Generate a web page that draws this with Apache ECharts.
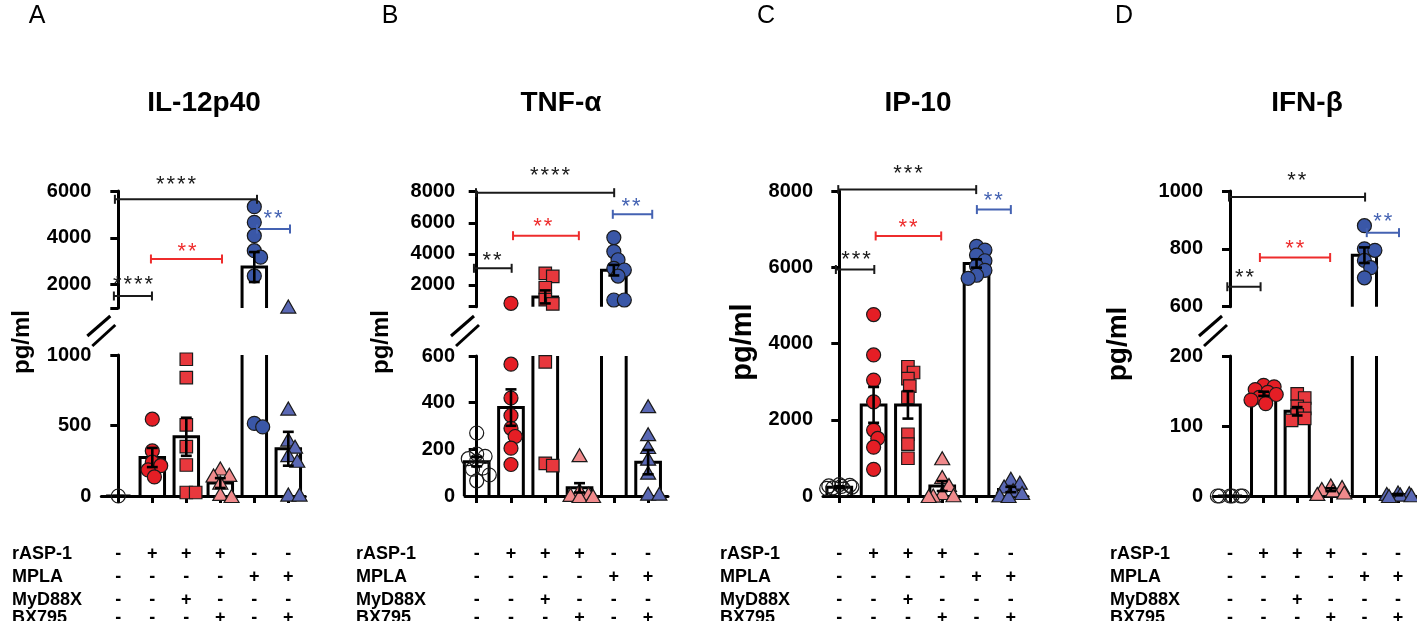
<!DOCTYPE html>
<html>
<head>
<meta charset="utf-8">
<script src="https://cdn.jsdelivr.net/npm/echarts@6/dist/echarts.min.js"></script>
<style>
html,body{margin:0;padding:0;background:#fff;}
#chart{width:1417px;height:621px;}
</style>
</head>
<body>
<div id="chart"></div>
<script>
// ---------------- DATA ----------------
const CATEGORIES = ['Medium', 'rASP-1', 'rASP-1 + MyD88X', 'rASP-1 + BX795', 'MPLA', 'MPLA + BX795'];
const ROW_LABELS = ['rASP-1', 'MPLA', 'MyD88X', 'BX795'];
const ROW_SIGNS = [
  ['-', '+', '+', '+', '-', '-'],
  ['-', '-', '-', '-', '+', '+'],
  ['-', '-', '+', '-', '-', '-'],
  ['-', '-', '-', '+', '-', '+']
];
const TITLES = ['IL-12p40', 'TNF-α', 'IP-10', 'IFN-β'];
const LETTERS = ['A', 'B', 'C', 'D'];
const Y_NAME = 'pg/ml';

// IL-12p40
const IL12_MEAN = [0, 273, 420, 92, 2750, 335];
const IL12_SEM = [0, 68, 135, 35, 640, 120];
const IL12_POINTS = [
  [0],
  [545, 320, 240, 215, 185, 135],
  [970, 840, 505, 350, 220, 25, 25],
  [195, 150, 145, 95, 15, 0],
  [5330, 4660, 4090, 3450, 3170, 2370, 515, 490],
  [1060, 620, 400, 350, 290, 250, 10, 10]
];
const IL12_TICKS_LOW = [0, 500, 1000];
const IL12_RANGE_HIGH = [1000, 6000];
const IL12_TICKS_HIGH = [2000, 4000, 6000];
// [x1, x2, y, starX, starY, stars, colour]
const IL12_BRACKETS = [
  [-0.1, 4.08, 5645, 1.70, 6470, 4, 0],
  [4.08, 5.05, 4376, 4.55, 5017, 2, 2],
  [0.96, 3.05, 3094, 2.02, 3607, 2, 1],
  [-0.13, 0.99, 1513, 0.43, 2197, 4, 0]
];

// TNF-alpha
const TNF_MEAN = [147, 379, 1230, 35, 2950, 145];
const TNF_SEM = [20, 78, 420, 20, 340, 52];
const TNF_POINTS = [
  [270, 180, 170, 160, 150, 120, 115, 90, 65],
  [820, 565, 420, 345, 290, 255, 205, 135],
  [2750, 2550, 1820, 1050, 780, 575, 140, 130],
  [175, 25, 10, 5, 0, 0],
  [5050, 4150, 3620, 3070, 2960, 2570, 1030, 1030],
  [385, 265, 210, 160, 100, 10, 10]
];
const TNF_TICKS_LOW = [0, 200, 400, 600];
const TNF_RANGE_HIGH = [600, 8000];
const TNF_TICKS_HIGH = [2000, 4000, 6000, 8000];
const TNF_BRACKETS = [
  [-0.02, 4.01, 7936, 2.14, 9350, 4, 0],
  [3.97, 5.12, 6546, 4.5, 7338, 2, 2],
  [1.06, 2.98, 5169, 1.93, 6050, 2, 1],
  [-0.08, 1.02, 3071, 0.45, 3882, 2, 0]
];

// IP-10
const IP10_MEAN = [230, 2390, 2390, 260, 6100, 170];
const IP10_SEM = [25, 470, 360, 130, 110, 70];
const IP10_POINTS = [
  [300, 280, 265, 250, 235, 215, 200, 180],
  [4760, 3700, 3040, 2470, 1730, 1510, 1280, 700],
  [3390, 3240, 3080, 2880, 2590, 1620, 1360, 990],
  [990, 500, 290, 80, 20, 10, 0],
  [6550, 6450, 6320, 6170, 6030, 5920, 5790, 5710],
  [450, 350, 250, 150, 80, 20, 0]
];
const IP10_TICKS = [0, 2000, 4000, 6000, 8000];
const IP10_BRACKETS = [
  [-0.03, 3.99, 8037, 2.0, 8587, 3, 0],
  [4.01, 5.0, 7513, 4.49, 7869, 2, 2],
  [1.06, 2.97, 6821, 2.0, 7162, 2, 1],
  [-0.1, 1.02, 5941, 0.49, 6316, 3, 0]
];

// IFN-beta
const IFN_MEAN = [0, 146, 121, 9, 778, 2];
const IFN_SEM = [0, 3, 6, 2, 27, 1];
const IFN_POINTS = [
  [0, 0, 0, 0, 0, 0],
  [158, 156, 152, 148, 145, 141, 137, 132],
  [146, 140, 128, 125, 116, 111, 108],
  [15, 13, 10, 8, 5, 3],
  [880, 800, 795, 760, 735, 700],
  [5, 4, 3, 2, 1, 0]
];
const IFN_TICKS_LOW = [0, 100, 200];
const IFN_RANGE_HIGH = [600, 1000];
const IFN_TICKS_HIGH = [600, 800, 1000];
const IFN_BRACKETS = [
  [-0.03, 4.02, 979, 1.99, 1051, 2, 0],
  [4.07, 5.03, 856, 4.55, 910, 2, 2],
  [0.89, 2.98, 770, 1.93, 816, 2, 1],
  [-0.08, 0.91, 669, 0.43, 715, 2, 0]
];

// ---------------- STYLE / LAYOUT ----------------
const BRACKET_COLORS = ['#1a1a1a', '#ee2c2c', '#4462b2'];
const SYMBOLS = [
  {symbol: 'circle', size: 14, color: 'rgba(255,255,255,0)'},
  {symbol: 'circle', size: 14, color: '#e51e25'},
  {symbol: 'rect', size: 12.5, color: '#e8383d'},
  {symbol: 'triangle', size: [15, 13], color: '#f08a8c'},
  {symbol: 'circle', size: 14, color: '#3a57a7'},
  {symbol: 'triangle', size: [15, 13], color: '#5a68b4'}
];
const BAR_HALF = 0.36;
const CAP_HALF = 0.16;
const STAR_GAP = 10.5;
const STAR_DY = 5;
const TABLE_ROWS_Y = [554, 577, 600, 618];
const TITLE_Y = 103;
const TICK_FONT = {fontFamily: 'Liberation Sans', fontWeight: 'bold', fontSize: 20, color: '#000'};
const TABLE_FONT = 'bold 18px "Liberation Sans"';

const PANELS = [
  {mean: IL12_MEAN, sem: IL12_SEM, pts: IL12_POINTS, brk: IL12_BRACKETS,
   segs: [{range: [IL12_TICKS_LOW[0], IL12_TICKS_LOW[IL12_TICKS_LOW.length - 1]], labels: IL12_TICKS_LOW, top: 355, bottom: 496},
          {range: IL12_RANGE_HIGH, labels: IL12_TICKS_HIGH, top: 191, bottom: 308, upper: true}],
   ax: 101.3, w: 204, xmin: -0.5, xmax: 5.5, labelX: 12, letterX: 37, titleX: 204, ylabX: 22, ylabY: 342, ylabSize: 24},
  {mean: TNF_MEAN, sem: TNF_SEM, pts: TNF_POINTS, brk: TNF_BRACKETS,
   segs: [{range: [TNF_TICKS_LOW[0], TNF_TICKS_LOW[TNF_TICKS_LOW.length - 1]], labels: TNF_TICKS_LOW, top: 356, bottom: 496},
          {range: TNF_RANGE_HIGH, labels: TNF_TICKS_HIGH, top: 191.7, bottom: 306.7, upper: true}],
   ax: 465, w: 203, xmin: -0.341, xmax: 5.58, labelX: 356, letterX: 390, titleX: 561, ylabX: 381, ylabY: 342, ylabSize: 24},
  {mean: IP10_MEAN, sem: IP10_SEM, pts: IP10_POINTS, brk: IP10_BRACKETS,
   segs: [{range: [IP10_TICKS[0], IP10_TICKS[IP10_TICKS.length - 1]], labels: IP10_TICKS, top: 191, bottom: 496}],
   ax: 823, w: 205, xmin: -0.475, xmax: 5.5, labelX: 720, letterX: 766, titleX: 918, ylabX: 743, ylabY: 342, ylabSize: 29},
  {mean: IFN_MEAN, sem: IFN_SEM, pts: IFN_POINTS, brk: IFN_BRACKETS,
   segs: [{range: [IFN_TICKS_LOW[0], IFN_TICKS_LOW[IFN_TICKS_LOW.length - 1]], labels: IFN_TICKS_LOW, top: 356, bottom: 496},
          {range: IFN_RANGE_HIGH, labels: IFN_TICKS_HIGH, top: 191, bottom: 306.7, upper: true}],
   ax: 1213, w: 204, xmin: -0.506, xmax: 5.565, labelX: 1110, letterX: 1124, titleX: 1307, ylabX: 1118, ylabY: 344, ylabSize: 28}
];

// ---------------- BUILD ----------------
const chart = echarts.init(document.getElementById('chart'), null, {renderer: 'canvas'});
const grids = [], xAxes = [], yAxes = [], series = [], scatterSpecs = [];
const lowerGridOfPanel = [];
const CAT_IDX = CATEGORIES.map((c, i) => i);

function barRender(lo, hi, isUpper) {
  return function (params, api) {
    const i = api.value(0), m = api.value(1);
    if (isUpper && m <= lo) return null;
    const yb = api.coord([i, lo])[1];
    const xl = api.coord([i - BAR_HALF, lo])[0], xr = api.coord([i + BAR_HALF, lo])[0];
    const st = {stroke: '#000', lineWidth: 3, fill: null, lineJoin: 'miter'};
    if (!isUpper && m > hi) {
      const yt = api.coord([i, hi])[1];
      return {type: 'group', children: [
        {type: 'line', shape: {x1: xl, y1: yb, x2: xl, y2: yt}, style: st},
        {type: 'line', shape: {x1: xr, y1: yb, x2: xr, y2: yt}, style: st}
      ]};
    }
    const yt = api.coord([i, m])[1];
    return {type: 'polyline', shape: {points: [[xl, yb], [xl, yt], [xr, yt], [xr, yb]]}, style: st};
  };
}

function errRender(lo, hi, isUpper) {
  return function (params, api) {
    const i = api.value(0), m = api.value(1), s = api.value(2);
    if (m > hi || (isUpper && m <= lo)) return null;
    const st = {stroke: '#000', lineWidth: 2.6};
    const pm = api.coord([i, m]);
    const xl = api.coord([i - CAP_HALF, m])[0], xr = api.coord([i + CAP_HALF, m])[0];
    if (s <= 0) {
      return {type: 'line', shape: {x1: xl, y1: pm[1], x2: xr, y2: pm[1]}, style: st};
    }
    const y1 = api.coord([i, Math.max(m - s, lo)])[1], y2 = api.coord([i, m + s])[1];
    return {type: 'group', children: [
      {type: 'line', shape: {x1: pm[0], y1: y1, x2: pm[0], y2: y2}, style: st},
      {type: 'line', shape: {x1: xl, y1: y1, x2: xr, y2: y1}, style: st},
      {type: 'line', shape: {x1: xl, y1: y2, x2: xr, y2: y2}, style: st}
    ]};
  };
}

function bracketRender(params, api) {
  const x1 = api.value(0), x2 = api.value(1), y = api.value(2);
  const sx = api.value(3), sy = api.value(4), n = api.value(5);
  const c = BRACKET_COLORS[api.value(6)];
  const p1 = api.coord([x1, y]), p2 = api.coord([x2, y]), ps = api.coord([sx, sy]);
  const st = {stroke: c, lineWidth: 2};
  const ch = [
    {type: 'line', shape: {x1: p1[0], y1: p1[1], x2: p2[0], y2: p2[1]}, style: st},
    {type: 'line', shape: {x1: p1[0], y1: p1[1] - 4.5, x2: p1[0], y2: p1[1] + 4.5}, style: st},
    {type: 'line', shape: {x1: p2[0], y1: p2[1] - 4.5, x2: p2[0], y2: p2[1] + 4.5}, style: st}
  ];
  for (let k = 0; k < n; k++) {
    ch.push({type: 'text', x: ps[0] + (k - (n - 1) / 2) * STAR_GAP, y: ps[1] + STAR_DY,
      style: {text: '*', fill: c, font: '22px "Liberation Sans"', align: 'center', verticalAlign: 'middle',
              textAlign: 'center', textVerticalAlign: 'middle'}});
  }
  return {type: 'group', children: ch};
}

PANELS.forEach((P, pi) => {
  P.segs.forEach((S, si) => {
    const g = grids.length;
    if (si === 0) lowerGridOfPanel.push(g);
    const [lo, hi] = S.range;
    grids.push({left: P.ax, top: S.top, width: P.w, height: S.bottom - S.top, containLabel: false, outerBoundsMode: 'none'});
    const isLower = !S.upper;
    xAxes.push({
      type: 'value', gridIndex: g, min: P.xmin, max: P.xmax, show: isLower,
      axisLine: {show: true, lineStyle: {color: '#000', width: 3}},
      axisTick: {show: true, customValues: CAT_IDX, length: 7, lineStyle: {color: '#000', width: 3}},
      axisLabel: {show: false}, splitLine: {show: false}
    });
    const tickVals = S.labels.indexOf(lo) >= 0 ? S.labels.slice() : [lo].concat(S.labels);
    yAxes.push({
      type: 'value', gridIndex: g, min: lo, max: hi,
      axisLine: {show: true, lineStyle: {color: '#000', width: 3}},
      axisTick: {show: true, customValues: tickVals, length: 8, lineStyle: {color: '#000', width: 3}},
      axisLabel: Object.assign({show: true, customValues: S.labels, margin: 10,
                                formatter: v => String(v)}, TICK_FONT),
      splitLine: {show: false}
    });
    const isUpper = !!S.upper;
    series.push({type: 'custom', xAxisIndex: g, yAxisIndex: g, z: 2, silent: true,
      renderItem: barRender(lo, hi, isUpper), data: P.mean.map((m, i) => [i, m])});
    P.pts.forEach((vals, ci) => {
      const sv = vals.filter(v => isUpper ? v > lo : v <= hi);
      if (!sv.length) return;
      const id = 'sc_' + pi + '_' + si + '_' + ci;
      const sym = SYMBOLS[ci];
      series.push({id: id, type: 'scatter', xAxisIndex: g, yAxisIndex: g, z: 3, silent: true, clip: false,
        symbol: sym.symbol, symbolSize: sym.size,
        itemStyle: {color: sym.color, borderColor: '#1a1a1a', borderWidth: 1.2, opacity: 1},
        emphasis: {disabled: true},
        data: sv.map(v => [ci, v])});
      scatterSpecs.push({id: id, g: g, ci: ci, vals: sv, size: Array.isArray(sym.size) ? sym.size[0] : sym.size});
    });
    series.push({type: 'custom', xAxisIndex: g, yAxisIndex: g, z: 4, silent: true,
      renderItem: errRender(lo, hi, isUpper), data: P.mean.map((m, i) => [i, m, P.sem[i]])});
    if (si === P.segs.length - 1) {
      series.push({type: 'custom', xAxisIndex: g, yAxisIndex: g, z: 5, silent: true,
        renderItem: bracketRender, data: P.brk});
    }
  });
});

chart.setOption({
  animation: false,
  backgroundColor: '#ffffff',
  grid: grids, xAxis: xAxes, yAxis: yAxes, series: series
});

// ---------- spread the dots (beeswarm) using library pixel conversion ----------
function swarm(ys, size, maxOff) {
  const order = ys.map((y, i) => i).sort((a, b) => ys[a] - ys[b]);
  const placed = [], xs = new Array(ys.length);
  const minD = size * 0.62;
  const cands = [0];
  for (let k = 1; k < 60; k++) { const o = k * size * 0.15; if (o > maxOff) break; cands.push(o, -o); }
  order.forEach(i => {
    let chosen = null, bestOv = Infinity, bestO = 0;
    for (const o of cands) {
      let ov = 0;
      for (const p of placed) { const d = Math.hypot(p.x - o, p.y - ys[i]); if (d < minD) ov += minD - d; }
      if (ov === 0) { chosen = o; break; }
      if (ov < bestOv) { bestOv = ov; bestO = o; }
    }
    if (chosen === null) chosen = bestO;
    xs[i] = chosen; placed.push({x: chosen, y: ys[i]});
  });
  return xs;
}

const updates = [];
scatterSpecs.forEach(s => {
  const p0 = chart.convertToPixel({gridIndex: s.g}, [0, s.vals[0]]);
  const p1 = chart.convertToPixel({gridIndex: s.g}, [1, s.vals[0]]);
  const pxPerCat = p1[0] - p0[0];
  const ys = s.vals.map(v => chart.convertToPixel({gridIndex: s.g}, [s.ci, v])[1]);
  const offs = swarm(ys, s.size, pxPerCat * 0.42);
  updates.push({id: s.id, data: s.vals.map((v, k) => [s.ci + offs[k] / pxPerCat, v])});
});

// ---------- texts: letters, titles, axis names, treatment table, axis breaks ----------
const graphics = [];
function txt(x, y, text, font, align, rot) {
  const o = {type: 'text', x: x, y: y, silent: true,
    style: {text: text, font: font, fill: '#000', textAlign: align || 'center', textVerticalAlign: 'middle',
            align: align || 'center', verticalAlign: 'middle'}};
  if (rot) o.rotation = rot;
  graphics.push(o);
}
PANELS.forEach((P, pi) => {
  txt(P.letterX, 16, LETTERS[pi], '25px "Liberation Sans"');
  txt(P.titleX, TITLE_Y, TITLES[pi], 'bold 28px "Liberation Sans"');
  txt(P.ylabX, P.ylabY, Y_NAME, 'bold ' + P.ylabSize + 'px "Liberation Sans"', 'center', Math.PI / 2);
  const g = lowerGridOfPanel[pi];
  ROW_LABELS.forEach((lab, r) => {
    txt(P.labelX, TABLE_ROWS_Y[r], lab, TABLE_FONT, 'left');
    ROW_SIGNS[r].forEach((sg, ci) => {
      const x = chart.convertToPixel({gridIndex: g}, [ci, 0])[0];
      txt(x, TABLE_ROWS_Y[r], sg, TABLE_FONT, 'center');
    });
  });
  if (P.segs.length > 1) {
    const ax = chart.convertToPixel({gridIndex: g}, [P.xmin, 0])[0];
    const st = {stroke: '#000', lineWidth: 3};
    graphics.push({type: 'line', silent: true, shape: {x1: ax - 14, y1: 336, x2: ax + 9, y2: 316}, style: st});
    graphics.push({type: 'line', silent: true, shape: {x1: ax - 9, y1: 346, x2: ax + 14, y2: 325}, style: st});
  }
});

chart.setOption({series: updates, graphic: graphics});
</script>
</body>
</html>
